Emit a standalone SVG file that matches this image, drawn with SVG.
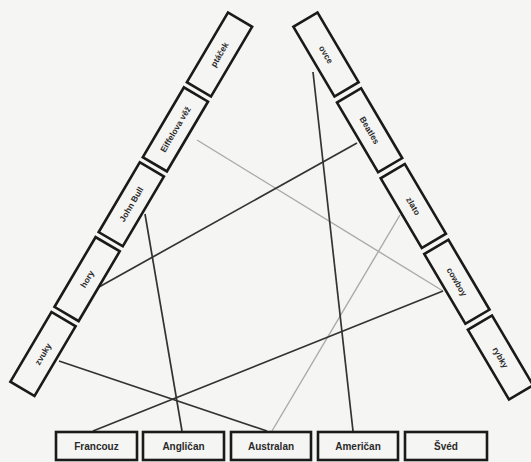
<svg xmlns="http://www.w3.org/2000/svg" width="531" height="462" viewBox="0 0 531 462">
<style>
.bx{fill:none;stroke:#1a1a1a;stroke-width:2.6}
.t{font-family:"Liberation Sans",Arial,sans-serif;font-size:8.5px;font-weight:bold;fill:#2a2a2a;text-anchor:middle}
.tb{font-family:"Liberation Sans",Arial,sans-serif;font-size:10px;font-weight:bold;fill:#2a2a2a;text-anchor:middle}
.dk{stroke:#333;stroke-width:1.7;fill:none}
.gr{stroke:#aaa;stroke-width:1.4;fill:none}
</style>
<rect width="531" height="462" fill="#f5f5f3"/>
<g id="connectors">
<line class="gr" x1="197" y1="140" x2="443" y2="291"/>
<line class="gr" x1="272" y1="431" x2="400" y2="215"/>
<line class="dk" x1="59" y1="361" x2="267" y2="431"/>
<line class="dk" x1="93" y1="431" x2="443" y2="291"/>
<line class="dk" x1="145" y1="214" x2="182" y2="431"/>
<line class="dk" x1="99" y1="287" x2="357" y2="143"/>
<line class="dk" x1="313" y1="72" x2="353" y2="431"/>
</g>
<g id="l1" transform="translate(219.5,54.5) rotate(-59.5)"><rect class="bx" x="-40.5" y="-14" width="81" height="28"/><text class="t" y="3">ptáček</text></g>
<g id="l2" transform="translate(175.4,129.4) rotate(-59.5)"><rect class="bx" x="-40.5" y="-14" width="81" height="28"/><text class="t" y="3">Eiffelova věž</text></g>
<g id="l3" transform="translate(131.3,204.3) rotate(-59.5)"><rect class="bx" x="-40.5" y="-14" width="81" height="28"/><text class="t" y="3">John Bull</text></g>
<g id="l4" transform="translate(87.1,279.1) rotate(-59.5)"><rect class="bx" x="-40.5" y="-14" width="81" height="28"/><text class="t" y="3">hory</text></g>
<g id="l5" transform="translate(43,354) rotate(-59.5)"><rect class="bx" x="-40.5" y="-14" width="81" height="28"/><text class="t" y="3">zvuky</text></g>
<g id="r1" transform="translate(326,54.5) rotate(59.5)"><rect class="bx" x="-40.5" y="-14" width="81" height="28"/><text class="t" y="3">ovce</text></g>
<g id="r2" transform="translate(369.6,130.3) rotate(59.5)"><rect class="bx" x="-40.5" y="-14" width="81" height="28"/><text class="t" y="3">Beatles</text></g>
<g id="r3" transform="translate(413.3,206) rotate(59.5)"><rect class="bx" x="-40.5" y="-14" width="81" height="28"/><text class="t" y="3">zlato</text></g>
<g id="r4" transform="translate(456.9,281.8) rotate(59.5)"><rect class="bx" x="-40.5" y="-14" width="81" height="28"/><text class="t" y="3">cowboy</text></g>
<g id="r5" transform="translate(500.5,357.5) rotate(59.5)"><rect class="bx" x="-40.5" y="-14" width="81" height="28"/><text class="t" y="3">rybky</text></g>
<g id="b1"><rect class="bx" x="56" y="432" width="81" height="28"/><text class="tb" x="96.5" y="450">Francouz</text></g>
<g id="b2"><rect class="bx" x="143" y="432" width="81" height="28"/><text class="tb" x="183.5" y="450">Angličan</text></g>
<g id="b3"><rect class="bx" x="231" y="432" width="80" height="28"/><text class="tb" x="271" y="450">Australan</text></g>
<g id="b4"><rect class="bx" x="318" y="432" width="80" height="28"/><text class="tb" x="358" y="450">Američan</text></g>
<g id="b5"><rect class="bx" x="405" y="432" width="82" height="28"/><text class="tb" x="446" y="450">Švéd</text></g>
</svg>
